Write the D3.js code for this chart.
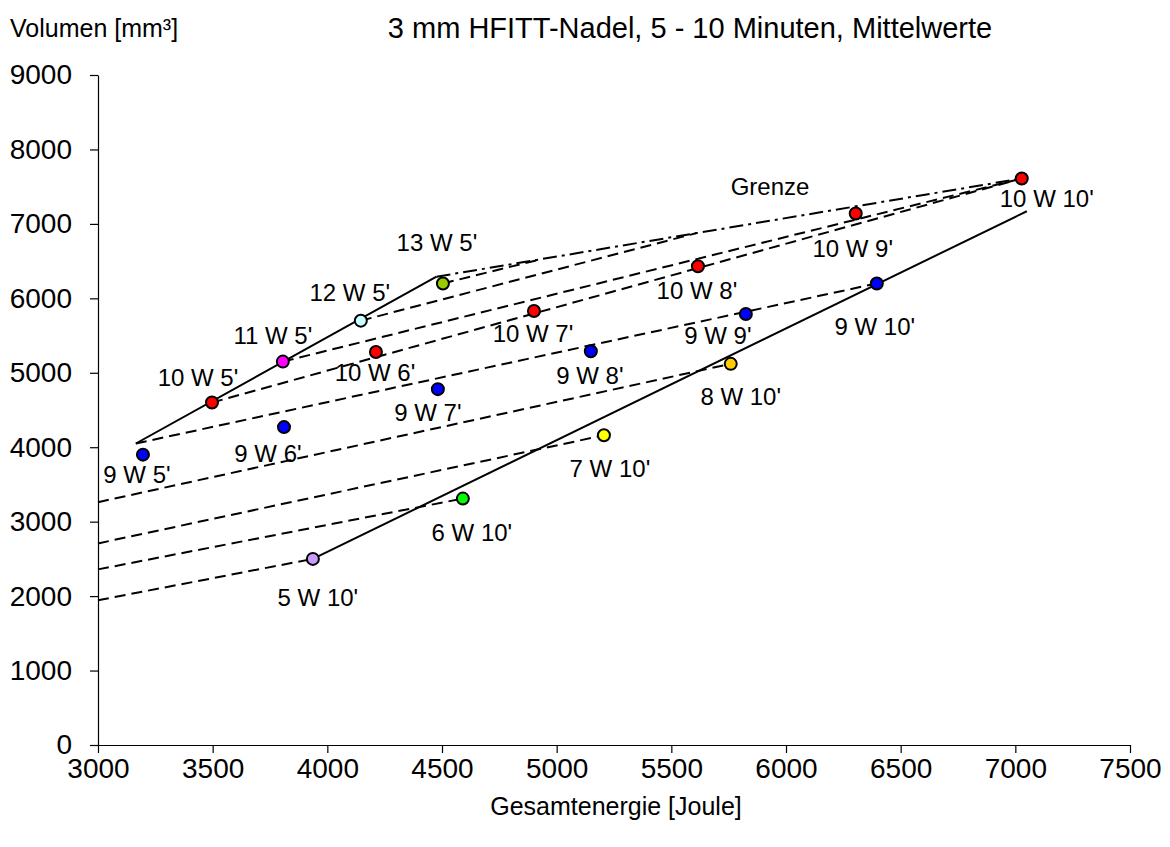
<!DOCTYPE html>
<html lang="de">
<head>
<meta charset="utf-8">
<title>HFITT-Nadel Mittelwerte</title>
<script src="https://cdn.jsdelivr.net/npm/d3@7/dist/d3.min.js"></script>
<style>
  body { margin: 0; background: #fff; }
  text { font-family: "Liberation Sans", Arial, sans-serif; fill: #000; }
</style>
</head>
<body>
<script>
// --- data ---
var pointLabels = ["9 W 5'", "10 W 5'", "11 W 5'", "12 W 5'", "13 W 5'",
                   "9 W 6'", "10 W 6'", "9 W 7'", "10 W 7'", "9 W 8'", "10 W 8'",
                   "9 W 9'", "10 W 9'", "10 W 10'", "9 W 10'", "8 W 10'",
                   "7 W 10'", "6 W 10'", "5 W 10'"];
var watts   = [9, 10, 11, 12, 13, 9, 10, 9, 10, 9, 10, 9, 10, 10, 9, 8, 7, 6, 5];
var energy  = [3196, 3497, 3806, 4146, 4504, 3811, 4212, 4482, 4901, 5149, 5616,
               5825, 6304, 7028, 6396, 5759, 5206, 4591, 3937];
var volume  = [3900, 4600, 5150, 5700, 6200, 4270, 5280, 4780, 5830, 5290, 6430,
               5790, 7140, 7610, 6200, 5120, 4160, 3310, 2500];

// trend lines, [start, end] in [Joule, mm3]
var solidLines = [
  [[3165, 4050], [4476, 6290]],   // 5 Minuten
  [[3937, 2500], [7050, 7170]]    // 10 Minuten
];
var grenzeLine = [[4476, 6290], [7028, 7610]];
var dashedLines = [
  [[3165, 4050], [6396, 6200]],   // 9 W
  [[3497, 4600], [7028, 7610]],   // 10 W
  [[3806, 5150], [7028, 7610]],   // 11 W
  [[4146, 5700], [5611, 6877]],   // 12 W
  [[4504, 6200], [4927, 6522]],   // 13 W
  [[3000, 3262], [5759, 5120]],   // 8 W
  [[3000, 2708], [5206, 4160]],   // 7 W
  [[3000, 2359], [4591, 3310]],   // 6 W
  [[3000, 1944], [3937, 2500]]    // 5 W
];

var xTicks = [3000, 3500, 4000, 4500, 5000, 5500, 6000, 6500, 7000, 7500];
var yTicks = [0, 1000, 2000, 3000, 4000, 5000, 6000, 7000, 8000, 9000];

// --- styles ---
var wattColor = {5: "#cc99ff", 6: "#00ff00", 7: "#ffff00", 8: "#ffcc00", 9: "#0000ff",
                 10: "#ff0000", 11: "#ff00ff", 12: "#ccffff", 13: "#99cc00"};
// label offset from its point, px
var labelOffset = [[-6, 20], [-14, -25], [-10, -26], [-11, -28], [-6, -41],
                   [-16, 26], [-1, 21], [-10, 23], [-1, 23], [-1, 24], [-1, 24],
                   [-28, 22], [-3, 35], [25, 20], [-2, 43], [10, 33],
                   [6, 33], [9, 34], [5, 39]];

var width = 1170, height = 847;
var svg = d3.select("body").append("svg")
            .attr("width", width)
            .attr("height", height);

var x = d3.scaleLinear().domain([3000, 7500]).range([98, 1130]);
var y = d3.scaleLinear().domain([0, 9000]).range([745, 75]);

// axes
var xAxis = svg.append("g")
    .attr("transform", "translate(0,745)")
    .call(d3.axisBottom(x).tickValues(xTicks).tickFormat(d3.format("d"))
            .tickSize(8).tickSizeOuter(0).tickPadding(5));
var yAxis = svg.append("g")
    .attr("transform", "translate(98,0)")
    .call(d3.axisLeft(y).tickValues(yTicks).tickFormat(d3.format("d"))
            .tickSize(8).tickSizeOuter(0).tickPadding(18));
svg.selectAll(".tick text").attr("font-size", 28).attr("font-family", null);
svg.selectAll(".domain, .tick line").attr("stroke", "#000").attr("stroke-width", 1.2);

// titles
svg.append("text").attr("x", 690).attr("y", 38)
   .attr("text-anchor", "middle").attr("font-size", 29)
   .text("3 mm HFITT-Nadel, 5 - 10 Minuten, Mittelwerte");
svg.append("text").attr("x", 10).attr("y", 37)
   .attr("font-size", 25).text("Volumen [mm³]");
svg.append("text").attr("x", 616).attr("y", 815)
   .attr("text-anchor", "middle").attr("font-size", 25)
   .text("Gesamtenergie [Joule]");

var line = d3.line().x(function(d){ return x(d[0]); }).y(function(d){ return y(d[1]); });

svg.selectAll("path.dashed")
   .data(dashedLines).enter().append("path")
   .attr("class", "dashed")
   .attr("d", line)
   .attr("fill", "none").attr("stroke", "#000")
   .attr("stroke-width", 2).attr("stroke-dasharray", "11,6");

svg.append("path")
   .datum(grenzeLine)
   .attr("d", line)
   .attr("fill", "none").attr("stroke", "#000")
   .attr("stroke-width", 2).attr("stroke-dasharray", "14,5,3,5");

svg.selectAll("path.solid")
   .data(solidLines).enter().append("path")
   .attr("class", "solid")
   .attr("d", line)
   .attr("fill", "none").attr("stroke", "#000").attr("stroke-width", 2);

// points
svg.selectAll("circle")
   .data(energy).enter().append("circle")
   .attr("cx", function(d){ return x(d); })
   .attr("cy", function(d, i){ return y(volume[i]); })
   .attr("r", 6)
   .attr("fill", function(d, i){ return wattColor[watts[i]]; })
   .attr("stroke", "#000").attr("stroke-width", 2);

// point labels
svg.selectAll("text.plabel")
   .data(pointLabels).enter().append("text")
   .attr("class", "plabel")
   .attr("x", function(d, i){ return x(energy[i]) + labelOffset[i][0]; })
   .attr("y", function(d, i){ return y(volume[i]) + labelOffset[i][1]; })
   .attr("dy", "0.35em")
   .attr("text-anchor", "middle").attr("font-size", 24)
   .text(function(d){ return d; });

svg.append("text").attr("x", 770).attr("y", 195)
   .attr("text-anchor", "middle").attr("font-size", 24).text("Grenze");
</script>
</body>
</html>
